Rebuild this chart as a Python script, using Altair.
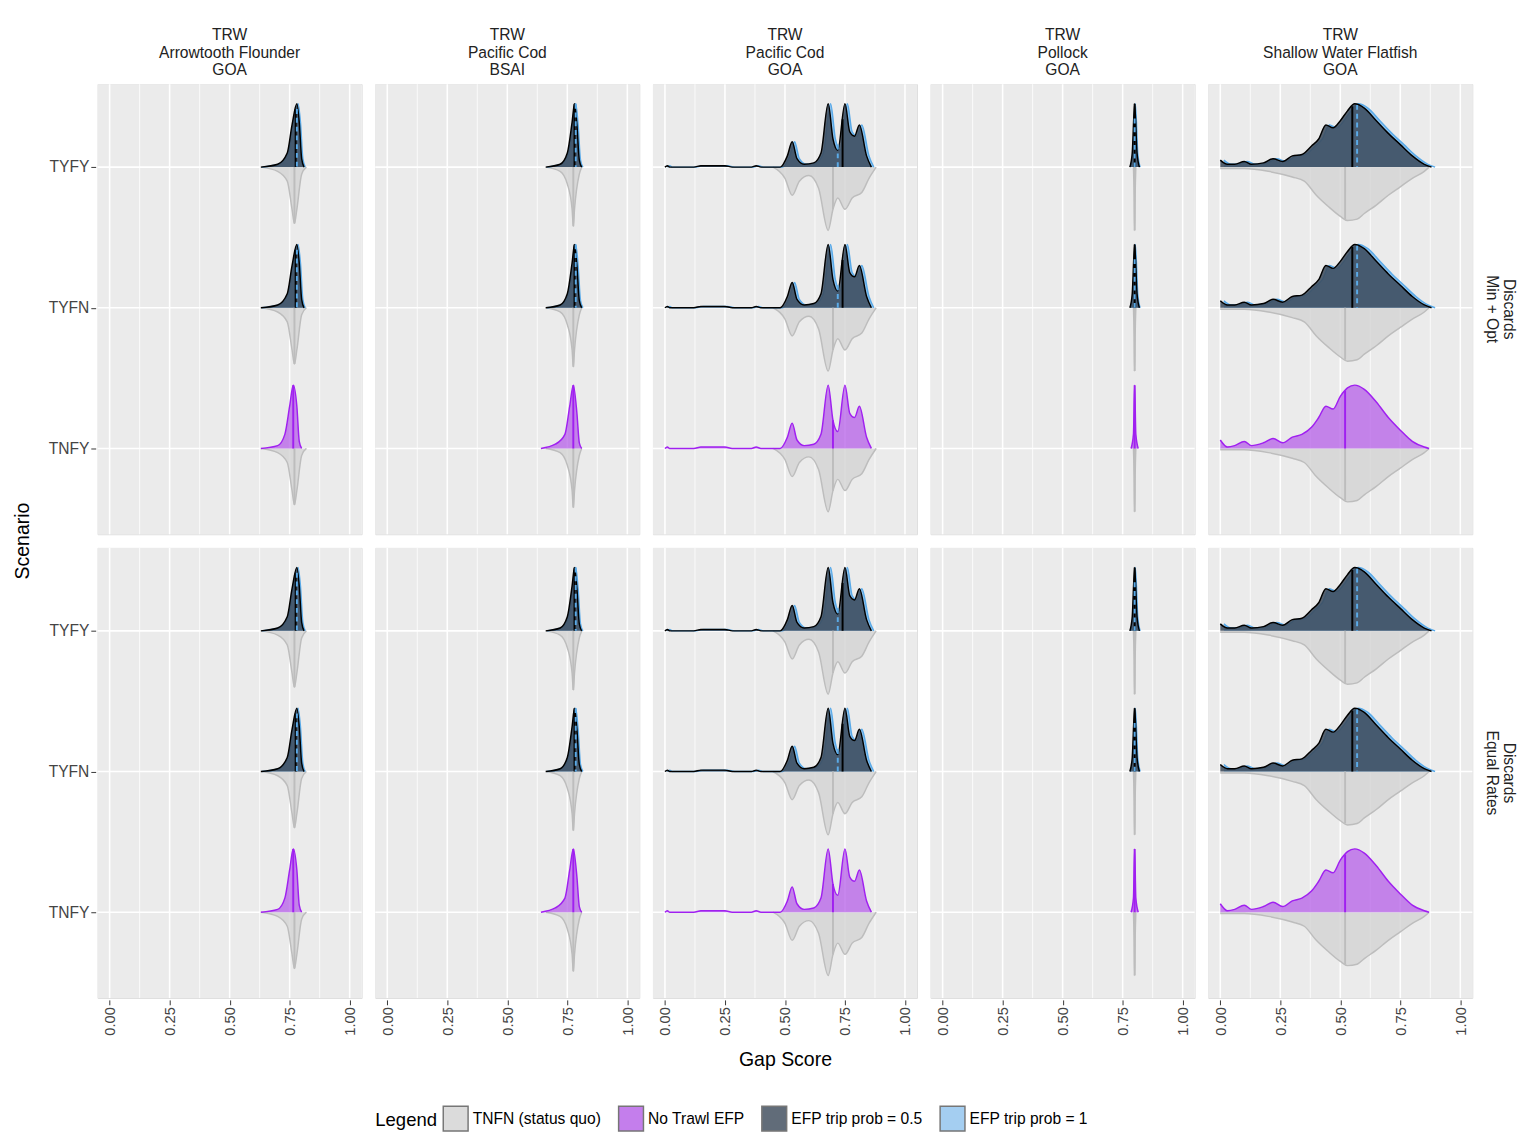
import altair as alt
import pandas as pd
import numpy as np

COLS = ["TRW|Arrowtooth Flounder|GOA", "TRW|Pacific Cod|BSAI", "TRW|Pacific Cod|GOA",
        "TRW|Pollock|GOA", "TRW|Shallow Water Flatfish|GOA"]
ROWS = ["Discards|Min + Opt", "Discards|Equal Rates"]
SCEN = ["TYFY", "TYFN", "TNFY"]
SCEN_POS = [2, 1, 0]
SERIES = ["TNFN (status quo)", "No Trawl EFP", "EFP trip prob = 0.5", "EFP trip prob = 1"]
X_MAJOR = [0, 0.25, 0.5, 0.75, 1.0]
X_MINOR = [0.125, 0.375, 0.625, 0.875]

# curves as (x, height) pairs
DARK = [
    [(0.63,0),(0.70,0.02),(0.74,0.1),(0.76,0.3),(0.78,0.45),(0.79,0.32),(0.80,0.06),(0.81,0)],
    [(0.66,0),(0.72,0.02),(0.75,0.1),(0.77,0.32),(0.78,0.45),(0.79,0.3),(0.80,0.05),(0.81,0)],
    [(0.0,0),(0.01,0.01),(0.02,0),(0.12,0),(0.15,0.01),(0.2,0.01),(0.25,0.01),(0.28,0),(0.36,0),(0.38,0.01),(0.40,0),
     (0.48,0),(0.51,0.08),(0.53,0.18),(0.55,0.06),(0.58,0.02),(0.62,0.03),(0.65,0.1),(0.68,0.45),(0.70,0.2),(0.72,0.12),
     (0.75,0.45),(0.77,0.25),(0.79,0.22),(0.81,0.3),(0.84,0.08),(0.86,0)],
    [(0.78,0),(0.79,0.1),(0.80,0.45),(0.81,0.1),(0.82,0)],
    [(0.0,0.05),(0.03,0.02),(0.06,0.02),(0.1,0.04),(0.13,0.02),(0.18,0.03),(0.22,0.06),(0.26,0.04),(0.3,0.08),
     (0.34,0.09),(0.38,0.15),(0.41,0.2),(0.44,0.3),(0.47,0.28),(0.5,0.33),(0.53,0.4),(0.56,0.45),(0.6,0.42),
     (0.65,0.33),(0.7,0.24),(0.75,0.16),(0.8,0.08),(0.85,0.02),(0.88,0)],
]
PURPLE = [
    [(0.63,0),(0.70,0.02),(0.73,0.1),(0.75,0.3),(0.765,0.45),(0.78,0.3),(0.79,0.05),(0.80,0)],
    [(0.64,0),(0.70,0.03),(0.74,0.1),(0.76,0.3),(0.775,0.45),(0.79,0.25),(0.80,0.04),(0.81,0)],
    DARK[2],
    [(0.785,0),(0.795,0.1),(0.80,0.45),(0.805,0.1),(0.815,0)],
    [(0.0,0.06),(0.03,0.01),(0.06,0.02),(0.1,0.05),(0.13,0.02),(0.18,0.04),(0.22,0.07),(0.26,0.04),(0.3,0.08),
     (0.34,0.1),(0.38,0.15),(0.41,0.22),(0.44,0.3),(0.47,0.28),(0.5,0.37),(0.53,0.43),(0.56,0.45),(0.6,0.42),
     (0.65,0.33),(0.7,0.22),(0.75,0.13),(0.8,0.05),(0.85,0.01),(0.87,0)],
]
GREY = [
    [(0.63,0),(0.70,0.03),(0.74,0.1),(0.76,0.3),(0.77,0.4),(0.78,0.3),(0.80,0.05),(0.82,0)],
    [(0.66,0),(0.72,0.03),(0.75,0.12),(0.77,0.3),(0.775,0.42),(0.78,0.3),(0.80,0.05),(0.81,0)],
    [(0.45,0),(0.50,0.08),(0.53,0.2),(0.56,0.1),(0.6,0.06),(0.64,0.15),(0.68,0.45),(0.70,0.3),(0.72,0.22),
     (0.75,0.3),(0.78,0.22),(0.82,0.18),(0.85,0.08),(0.88,0)],
    [(0.795,0),(0.798,0.2),(0.80,0.45),(0.802,0.2),(0.805,0)],
    [(0.0,0.01),(0.1,0.01),(0.2,0.03),(0.3,0.07),(0.35,0.1),(0.4,0.2),(0.45,0.28),(0.5,0.35),(0.53,0.38),
     (0.57,0.37),(0.6,0.33),(0.65,0.27),(0.7,0.2),(0.75,0.14),(0.8,0.08),(0.85,0.03),(0.87,0)],
]
BLUE_SHIFT = [0.005, 0.005, 0.01, 0.003, 0.015]
MED_DARK = [0.775, 0.78, 0.74, 0.80, 0.55]
MED_BLUE = [0.78, 0.785, 0.72, 0.80, 0.57]
MED_PURPLE = [0.765, 0.775, 0.70, 0.80, 0.52]
MED_GREY = [0.77, 0.775, 0.70, 0.80, 0.52]

W, H = 271, 462
area_rows, rule_rows, other_rows = [], [], []
gid = 0
for ci, c in enumerate(COLS):
    for r in ROWS:
        other_rows.append(dict(col=c, row=r, kind="bg"))
        for gx in X_MAJOR:
            other_rows.append(dict(col=c, row=r, kind="gmaj", x=gx))
        for gx in X_MINOR:
            other_rows.append(dict(col=c, row=r, kind="gmin", x=gx))
        for gy in SCEN_POS:
            other_rows.append(dict(col=c, row=r, kind="gy", y=gy))
        for s, base in zip(SCEN, SCEN_POS):
            def add(curve, sign, series, shift=0.0):
                global gid
                gid += 1
                for x, h in curve:
                    area_rows.append(dict(col=c, row=r, gid=gid, series=series, x=x + shift,
                                          y=base + sign * h, base=base, kind="area"))
            def rule(curve, med, sign, series, shift=0.0):
                xs = [p[0] + shift for p in curve]; hs = [p[1] for p in curve]
                h = float(np.interp(med, xs, hs))
                rule_rows.append(dict(col=c, row=r, series=series, x=med, y=base + sign * h,
                                      base=base, kind="rule"))
            add(GREY[ci], -1, SERIES[0])
            rule(GREY[ci], MED_GREY[ci], -1, SERIES[0])
            if s == "TNFY":
                add(PURPLE[ci], 1, SERIES[1])
                rule(PURPLE[ci], MED_PURPLE[ci], 1, SERIES[1])
            else:
                add(DARK[ci], 1, SERIES[3], BLUE_SHIFT[ci])
                add(DARK[ci], 1, SERIES[2])
                rule(DARK[ci], MED_DARK[ci], 1, SERIES[2])
                rule(DARK[ci], MED_BLUE[ci], 1, SERIES[3], BLUE_SHIFT[ci])

df = pd.concat([pd.DataFrame(area_rows), pd.DataFrame(rule_rows), pd.DataFrame(other_rows)],
               ignore_index=True)

FILL = ["#D3D3D3", "#B65FE8", "#3A4858", "#8EC3EE"]
STROKE = ["#BDBDBD", "#A020F0", "#000000", "#5AAAE8"]

xscale = alt.Scale(domain=[-0.05, 1.05], nice=False)
yscale = alt.Scale(domain=[-0.61, 2.59], nice=False)
xaxis = alt.Axis(values=X_MAJOR, format=".2f", labelAngle=-90, grid=False, title=None,
                 labelFontSize=15, tickColor="#333", domain=False, labelColor="#444")
yaxis = alt.Axis(values=SCEN_POS, grid=False, title=None,
                 labelExpr="datum.value == 2 ? 'TYFY' : datum.value == 1 ? 'TYFN' : 'TNFY'",
                 labelFontSize=16, tickColor="#333", domain=False, labelColor="#444")

layers = []
layers.append(alt.Chart().transform_filter(alt.datum.kind == "bg").mark_rect(color="#EBEBEB").encode(
    x=alt.value(0), x2=alt.value(W), y=alt.value(0), y2=alt.value(H)))
layers.append(alt.Chart().transform_filter(alt.datum.kind == "gmin").mark_rule(color="white", strokeWidth=0.8).encode(
    x=alt.X("x:Q", scale=xscale, axis=xaxis), y=alt.value(0), y2=alt.value(H)))
layers.append(alt.Chart().transform_filter(alt.datum.kind == "gmaj").mark_rule(color="white", strokeWidth=1.6).encode(
    x=alt.X("x:Q", scale=xscale, axis=xaxis), y=alt.value(0), y2=alt.value(H)))
layers.append(alt.Chart().transform_filter(alt.datum.kind == "gy").mark_rule(color="white", strokeWidth=1.6).encode(
    y=alt.Y("y:Q", scale=yscale, axis=yaxis), x=alt.value(0), x2=alt.value(W)))

order = [0, 3, 2, 1]
opac = {0: 0.8, 1: 0.75, 2: 0.85, 3: 1.0}
for k in order:
    base = alt.Chart().transform_filter(
        (alt.datum.kind == "area") & (alt.datum.series == SERIES[k]))
    layers.append(base.mark_area(opacity=opac[k], interpolate="monotone").encode(
        x=alt.X("x:Q", scale=xscale, axis=xaxis), y=alt.Y("y:Q", scale=yscale, axis=yaxis),
        y2="base:Q", detail="gid:N",
        color=alt.Color("series:N", scale=alt.Scale(domain=SERIES, range=FILL),
                        legend=alt.Legend(title="Legend", orient="none", legendX=285, legendY=1048,
                                          direction="horizontal", symbolType="square",
                                          symbolSize=650, symbolStrokeColor="#555", symbolStrokeWidth=1.5,
                                          labelFontSize=16, titleFontSize=19, titleFontWeight="normal",
                                          titleOrient="left", columnPadding=14))))
    layers.append(base.mark_line(strokeWidth=1.5, interpolate="monotone").encode(
        x="x:Q", y="y:Q", detail="gid:N", color=alt.value(STROKE[k])))
for k in [0, 1, 2, 3]:
    rb = alt.Chart().transform_filter(
        (alt.datum.kind == "rule") & (alt.datum.series == SERIES[k]))
    layers.append(rb.mark_rule(strokeWidth=2, strokeDash=[5, 4] if k == 3 else [1, 0]).encode(
        x="x:Q", y="y:Q", y2="base:Q", color=alt.value(STROKE[k] if k else "#BDBDBD")))

chart = alt.layer(*layers, data=df).properties(width=W, height=H).facet(
    column=alt.Column("col:N", sort=COLS, title="Gap Score",
                      header=alt.Header(labelExpr="split(datum.value, '|')", labelFontSize=16,
                                        labelColor="#222", labelPadding=4, labelOrient="top",
                                        titleOrient="bottom", titleFontSize=20,
                                        titleFontWeight="normal", titlePadding=5)),
    row=alt.Row("row:N", sort=ROWS, title="Scenario",
                header=alt.Header(labelExpr="split(datum.value, '|')", labelOrient="right",
                                  labelAngle=90, labelFontSize=16, labelColor="#222",
                                  titleOrient="left", titleFontSize=20, titleFontWeight="normal",
                                  titlePadding=5)),
    spacing=10,
).configure_view(stroke=None).configure(font="Liberation Sans")

chart.save("out.html", embed_options={"renderer": "svg", "actions": False})
